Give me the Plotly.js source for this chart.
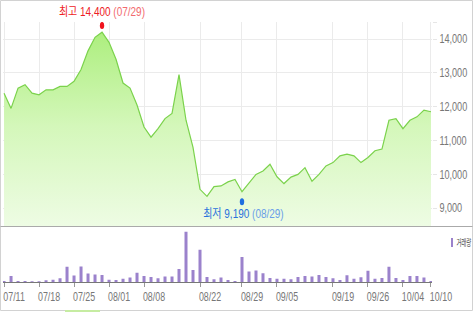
<!DOCTYPE html>
<html>
<head>
<meta charset="utf-8">
<script src="https://cdn.plot.ly/plotly-3.0.1.min.js"></script>
<style>
html,body{margin:0;padding:0;background:#fff;}
#chart{width:475px;height:312px;}
/* condense tick labels and annotations (narrow font look) */
#chart g.ytick{transform-box:fill-box;transform-origin:0% 50%;transform:scaleX(0.76);}
#chart g.x2tick{transform-box:fill-box;transform-origin:50% 50%;transform:scaleX(0.74);}
#chart g.annotation .annotation-text-g{transform-box:fill-box;transform-origin:50% 50%;transform:scaleX(0.8);}
#chart g.annotation[data-index="2"] .annotation-text-g{transform-origin:0% 50%;transform:scaleX(0.6);}
</style>
</head>
<body>
<div id="chart"></div>
<script>
// trading-day index of each point (07/11 .. 10/10)
const dayIndex = [0,1,2,3,4,5,6,7,8,9,10,11,12,13,14,15,16,17,18,19,20,21,22,23,24,25,26,27,28,29,30,31,32,33,34,35,36,37,38,39,40,41,42,43,44,45,46,47,48,49,50,51,52,53,54,55,56,57,58,59,60,61];
// closing prices
const closePrice = [12400,11950,12550,12650,12400,12350,12500,12500,12600,12600,12750,13100,13650,14050,14200,13900,13400,12700,12550,12050,11400,11100,11350,11650,11800,12950,11600,10800,9560,9350,9640,9660,9780,9850,9490,9750,10000,10100,10300,9930,9730,9920,10000,10200,9800,10000,10250,10350,10550,10600,10550,10350,10500,10700,10750,11600,11650,11350,11600,11700,11900,11850];
// trading volume
const volume = [10000,60000,10000,10000,7000,7000,17000,23000,37000,150000,63000,153000,83000,73000,70000,23000,20000,33000,43000,90000,60000,50000,37000,53000,53000,127000,495000,117000,317000,50000,27000,43000,20000,10000,245000,103000,113000,87000,40000,33000,33000,27000,50000,60000,53000,70000,50000,37000,20000,67000,33000,47000,110000,33000,40000,150000,40000,20000,60000,60000,43000,10000];
// x tick positions and labels
const xTickIdx = [0,5,10,15,20,28,34,39,47,52,57,61];
const xTickLabels = ['07/11','07/18','07/25','08/01','08/08','08/22','08/29','09/05','09/19','09/26','10/04','10/10'];
// y tick values and labels
const yTickVals = [9000,10000,11000,12000,13000,14000,14500];
const yTickLabels = ['9,000','10,000','11,000','12,000','13,000','14,000',''];
// high / low markers
const highIdx = 14, highVal = 14400, highDate = '07/29';
const lowIdx = 34, lowVal = 9190, lowDate = '08/29';

const fmt = v => v.toLocaleString('en-US');
const numFont = 'Liberation Sans, Arial, Noto Sans CJK KR, sans-serif';

// pixel helpers for decorations (plot area: left 3, right 432, top 22, bottom 282)
const W = 429, H = 260, L = 3, B = 282;
const px = x => (x - L) / W;
const py = y => (B - y) / H;

const traces = [
  {
    x: dayIndex, y: closePrice, type: 'scatter', mode: 'lines',
    line: {color: '#7bd24c', width: 1.2},
    fill: 'tozeroy',
    fillgradient: {type: 'vertical', start: 8462, stop: 14400,
      colorscale: [[0, 'rgba(238,252,228,1)'], [0.5, 'rgba(212,247,186,1)'], [1, 'rgba(170,238,122,1)']]},
    xaxis: 'x', yaxis: 'y', hoverinfo: 'skip', showlegend: false
  },
  {
    x: dayIndex, y: volume, type: 'bar', width: 0.43,
    marker: {color: '#9b82cc', line: {width: 0}},
    xaxis: 'x2', yaxis: 'y2', hoverinfo: 'skip', showlegend: false
  }
];

const layout = {
  width: 475, height: 312,
  margin: {l: 3, r: 43, t: 22, b: 30, pad: 0},
  paper_bgcolor: '#fff', plot_bgcolor: 'rgba(0,0,0,0)',
  showlegend: false,
  xaxis: {
    domain: [0, 1], range: [-0.15, 61.15], anchor: 'y',
    tickmode: 'array', tickvals: xTickIdx, ticktext: xTickLabels,
    showticklabels: false, ticks: '',
    showgrid: true, gridcolor: '#ebebeb', gridwidth: 1,
    zeroline: false, showline: false
  },
  yaxis: {
    domain: [0.2135, 1], range: [8462, 14502], anchor: 'x', side: 'right',
    tickmode: 'array', tickvals: yTickVals, ticktext: yTickLabels,
    ticks: 'outside', ticklen: 4, tickcolor: '#e6e6e6',
    ticklabeloverflow: 'allow',
    tickfont: {family: numFont, size: 12, color: '#777'},
    showgrid: true, gridcolor: '#ebebeb', zeroline: false, showline: false
  },
  xaxis2: {
    domain: [0, 1], range: [-0.15, 61.15], anchor: 'y2',
    tickmode: 'array', tickvals: xTickIdx, ticktext: xTickLabels,
    ticks: 'outside', ticklen: 4, tickcolor: '#999',
    tickangle: 0, automargin: false,
    ticklabelshift: 10, ticklabeloverflow: 'allow',
    tickfont: {family: numFont, size: 12, color: '#777'},
    showgrid: false, zeroline: false, showline: true, linecolor: '#777', linewidth: 1
  },
  yaxis2: {
    domain: [0, 0.2096], range: [0, 536000], anchor: 'x2',
    showticklabels: false, ticks: '', showgrid: false, zeroline: false, showline: false
  },
  shapes: [
    // outer frame
    {type: 'rect', xref: 'paper', yref: 'paper', x0: px(0.5), x1: px(472.5), y0: py(310.5), y1: py(0.5),
     line: {color: '#d2d2d2', width: 1}, layer: 'below'},
    // panel separator
    {type: 'line', xref: 'paper', yref: 'paper', x0: px(0.5), x1: px(472.5), y0: py(226.5), y1: py(226.5),
     line: {color: '#aaaaaa', width: 1}},
    // scroll thumb
    {type: 'rect', xref: 'paper', yref: 'paper', x0: px(65), x1: px(100), y0: py(312), y1: py(310),
     line: {width: 0}, fillcolor: '#c6eca2'},
    // high marker
    {type: 'circle', xref: 'x', yref: 'y', xsizemode: 'pixel', ysizemode: 'pixel',
     xanchor: highIdx, yanchor: highVal, x0: -2.2, x1: 2.2, y0: -3.5, y1: 3.5,
     fillcolor: '#f0141e', line: {width: 0}},
    // low marker
    {type: 'circle', xref: 'x', yref: 'y', xsizemode: 'pixel', ysizemode: 'pixel',
     xanchor: lowIdx, yanchor: lowVal, x0: -2.2, x1: 2.2, y0: -3.5, y1: 3.5,
     fillcolor: '#1e6fe0', line: {width: 0}},
    // volume legend swatch
    {type: 'rect', xref: 'paper', yref: 'paper', x0: px(451), x1: px(453), y0: py(247), y1: py(238),
     line: {width: 0}, fillcolor: '#9b82cc'}
  ],
  annotations: [
    {xref: 'x', yref: 'y', x: highIdx, y: highVal, yshift: 13, showarrow: false,
     text: '최고 ' + fmt(highVal) + ' <span style="color:#f26a6e">(' + highDate + ')</span>',
     font: {family: numFont, size: 12.5, color: '#ee1c25'}},
    {xref: 'x', yref: 'y', x: lowIdx, y: lowVal, yshift: -12.5, xshift: 1.5, showarrow: false,
     text: '최저 ' + fmt(lowVal) + ' <span style="color:#6a9ee8">(' + lowDate + ')</span>',
     font: {family: numFont, size: 12.5, color: '#2a72dc'}},
    {xref: 'paper', yref: 'paper', x: px(455), y: py(242.5), xanchor: 'left', yanchor: 'middle',
     showarrow: false, text: '거래량',
     font: {family: 'Noto Sans CJK KR, sans-serif', size: 9, color: '#444'}}
  ]
};

Plotly.newPlot('chart', traces, layout, {displayModeBar: false, staticPlot: true});
</script>
</body>
</html>
